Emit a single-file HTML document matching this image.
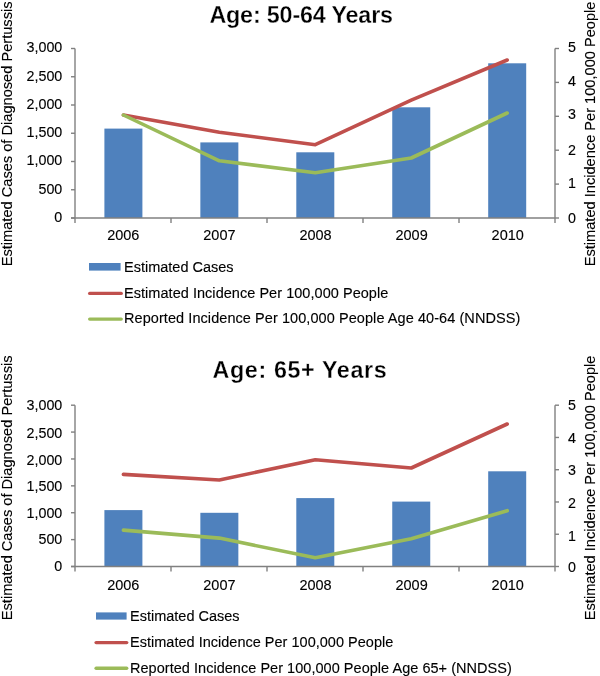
<!DOCTYPE html>
<html><head><meta charset="utf-8"><style>
html,body{margin:0;padding:0;background:#fff;}
svg{display:block;will-change:transform;}
text{font-family:"Liberation Sans", sans-serif;fill:#000;stroke:#000;stroke-width:0.12px;}
</style></head><body>
<svg width="600" height="676" viewBox="0 0 600 676">
<rect width="600" height="676" fill="#fff"/>
<rect x="104.40" y="128.60" width="38" height="89.40" fill="#4F81BD"/>
<rect x="200.35" y="142.40" width="38" height="75.60" fill="#4F81BD"/>
<rect x="296.30" y="152.30" width="38" height="65.70" fill="#4F81BD"/>
<rect x="392.25" y="107.30" width="38" height="110.70" fill="#4F81BD"/>
<rect x="488.20" y="63.30" width="38" height="154.70" fill="#4F81BD"/>
<g stroke="#808080" stroke-width="1.4" fill="none">
<path d="M75.0,48.5 V223"/>
<path d="M71.0,48.50 H75.0"/>
<path d="M71.0,76.75 H75.0"/>
<path d="M71.0,105.00 H75.0"/>
<path d="M71.0,133.25 H75.0"/>
<path d="M71.0,161.50 H75.0"/>
<path d="M71.0,189.75 H75.0"/>
<path d="M71.0,218.00 H75.0"/>
<path d="M555.0,48.5 V223"/>
<path d="M555.0,48.50 H559.0"/>
<path d="M555.0,82.40 H559.0"/>
<path d="M555.0,116.30 H559.0"/>
<path d="M555.0,150.20 H559.0"/>
<path d="M555.0,184.10 H559.0"/>
<path d="M555.0,218.00 H559.0"/>
<path d="M71.0,218 H555.0"/>
<path d="M171.00,218 V223"/>
<path d="M267.00,218 V223"/>
<path d="M363.00,218 V223"/>
<path d="M459.00,218 V223"/>
</g>
<polyline points="123.40,115.00 219.35,132.30 315.30,144.70 411.25,100.20 507.20,60.00" fill="none" stroke="#C0504D" stroke-width="3.6" stroke-linejoin="round" stroke-linecap="round"/>
<polyline points="123.40,115.00 219.35,160.80 315.30,172.70 411.25,158.00 507.20,113.00" fill="none" stroke="#9BBB59" stroke-width="3.6" stroke-linejoin="round" stroke-linecap="round"/>
<text transform="translate(62.3,51.70) scale(1,1.07)" text-anchor="end" font-size="14.3">3,000</text>
<text transform="translate(62.3,80.50) scale(1,1.07)" text-anchor="end" font-size="14.3">2,500</text>
<text transform="translate(62.3,108.85) scale(1,1.07)" text-anchor="end" font-size="14.3">2,000</text>
<text transform="translate(62.3,136.50) scale(1,1.07)" text-anchor="end" font-size="14.3">1,500</text>
<text transform="translate(62.3,165.40) scale(1,1.07)" text-anchor="end" font-size="14.3">1,000</text>
<text transform="translate(62.3,193.50) scale(1,1.07)" text-anchor="end" font-size="14.3">500</text>
<text transform="translate(62.3,222.30) scale(1,1.07)" text-anchor="end" font-size="14.3">0</text>
<text transform="translate(568,51.60) scale(1,1.07)" font-size="14.3">5</text>
<text transform="translate(568,86.00) scale(1,1.07)" font-size="14.3">4</text>
<text transform="translate(568,118.85) scale(1,1.07)" font-size="14.3">3</text>
<text transform="translate(568,154.65) scale(1,1.07)" font-size="14.3">2</text>
<text transform="translate(568,188.30) scale(1,1.07)" font-size="14.3">1</text>
<text transform="translate(568,222.50) scale(1,1.07)" font-size="14.3">0</text>
<text transform="translate(123.30,240.2) scale(1,1.07)" text-anchor="middle" font-size="14.5">2006</text>
<text transform="translate(219.40,240.2) scale(1,1.07)" text-anchor="middle" font-size="14.5">2007</text>
<text transform="translate(315.50,240.2) scale(1,1.07)" text-anchor="middle" font-size="14.5">2008</text>
<text transform="translate(411.60,240.2) scale(1,1.07)" text-anchor="middle" font-size="14.5">2009</text>
<text transform="translate(507.70,240.2) scale(1,1.07)" text-anchor="middle" font-size="14.5">2010</text>
<text x="209.4" y="23" textLength="183.6" lengthAdjust="spacing" font-size="23.3" font-weight="bold" style="stroke:#fff;stroke-width:0.3px">Age: 50-64 Years</text>
<text transform="translate(12.4,266.3) rotate(-90)" font-size="15" textLength="264.8" lengthAdjust="spacingAndGlyphs">Estimated Cases of Diagnosed Pertussis</text>
<text transform="translate(595,266.3) rotate(-90)" font-size="15" textLength="264.8" lengthAdjust="spacingAndGlyphs">Estimated Incidence Per 100,000 People</text>
<rect x="89" y="263" width="31.60" height="7.60" fill="#4F81BD"/>
<text transform="translate(124,272.00) scale(1,1.06)" font-size="14.5">Estimated Cases</text>
<path d="M89.70,293.40 H121.20" stroke="#C0504D" stroke-width="3.4" stroke-linecap="round"/>
<text transform="translate(124,297.70) scale(1,1.06)" font-size="14.5" textLength="264.3" lengthAdjust="spacing">Estimated Incidence Per 100,000 People</text>
<path d="M89.70,319.10 H121.20" stroke="#9BBB59" stroke-width="3.4" stroke-linecap="round"/>
<text transform="translate(124,323.40) scale(1,1.06)" font-size="14.5" textLength="396.3" lengthAdjust="spacing">Reported Incidence Per 100,000 People Age 40-64 (NNDSS)</text>
<rect x="104.40" y="510.10" width="38" height="56.40" fill="#4F81BD"/>
<rect x="200.35" y="512.80" width="38" height="53.70" fill="#4F81BD"/>
<rect x="296.30" y="498.10" width="38" height="68.40" fill="#4F81BD"/>
<rect x="392.25" y="501.60" width="38" height="64.90" fill="#4F81BD"/>
<rect x="488.20" y="471.30" width="38" height="95.20" fill="#4F81BD"/>
<g stroke="#808080" stroke-width="1.4" fill="none">
<path d="M75.0,405.2 V571.5"/>
<path d="M71.0,405.20 H75.0"/>
<path d="M71.0,432.08 H75.0"/>
<path d="M71.0,458.97 H75.0"/>
<path d="M71.0,485.85 H75.0"/>
<path d="M71.0,512.73 H75.0"/>
<path d="M71.0,539.62 H75.0"/>
<path d="M71.0,566.50 H75.0"/>
<path d="M555.0,405.2 V571.5"/>
<path d="M555.0,405.20 H559.0"/>
<path d="M555.0,437.46 H559.0"/>
<path d="M555.0,469.72 H559.0"/>
<path d="M555.0,501.98 H559.0"/>
<path d="M555.0,534.24 H559.0"/>
<path d="M555.0,566.50 H559.0"/>
<path d="M71.0,566.5 H555.0"/>
<path d="M171.00,566.5 V571.5"/>
<path d="M267.00,566.5 V571.5"/>
<path d="M363.00,566.5 V571.5"/>
<path d="M459.00,566.5 V571.5"/>
</g>
<polyline points="123.40,474.40 219.35,480.00 315.30,459.70 411.25,468.00 507.20,424.00" fill="none" stroke="#C0504D" stroke-width="3.6" stroke-linejoin="round" stroke-linecap="round"/>
<polyline points="123.40,530.10 219.35,538.10 315.30,557.80 411.25,538.70 507.20,510.70" fill="none" stroke="#9BBB59" stroke-width="3.6" stroke-linejoin="round" stroke-linecap="round"/>
<text transform="translate(62.3,410.05) scale(1,1.07)" text-anchor="end" font-size="14.3">3,000</text>
<text transform="translate(62.3,437.80) scale(1,1.07)" text-anchor="end" font-size="14.3">2,500</text>
<text transform="translate(62.3,464.90) scale(1,1.07)" text-anchor="end" font-size="14.3">2,000</text>
<text transform="translate(62.3,491.00) scale(1,1.07)" text-anchor="end" font-size="14.3">1,500</text>
<text transform="translate(62.3,517.75) scale(1,1.07)" text-anchor="end" font-size="14.3">1,000</text>
<text transform="translate(62.3,544.35) scale(1,1.07)" text-anchor="end" font-size="14.3">500</text>
<text transform="translate(62.3,570.95) scale(1,1.07)" text-anchor="end" font-size="14.3">0</text>
<text transform="translate(568,410.05) scale(1,1.07)" font-size="14.3">5</text>
<text transform="translate(568,442.85) scale(1,1.07)" font-size="14.3">4</text>
<text transform="translate(568,475.40) scale(1,1.07)" font-size="14.3">3</text>
<text transform="translate(568,507.60) scale(1,1.07)" font-size="14.3">2</text>
<text transform="translate(568,540.50) scale(1,1.07)" font-size="14.3">1</text>
<text transform="translate(568,571.65) scale(1,1.07)" font-size="14.3">0</text>
<text transform="translate(123.30,590) scale(1,1.07)" text-anchor="middle" font-size="14.5">2006</text>
<text transform="translate(219.40,590) scale(1,1.07)" text-anchor="middle" font-size="14.5">2007</text>
<text transform="translate(315.50,590) scale(1,1.07)" text-anchor="middle" font-size="14.5">2008</text>
<text transform="translate(411.60,590) scale(1,1.07)" text-anchor="middle" font-size="14.5">2009</text>
<text transform="translate(507.70,590) scale(1,1.07)" text-anchor="middle" font-size="14.5">2010</text>
<text x="212.6" y="378.3" font-size="23.3" font-weight="bold" textLength="174" lengthAdjust="spacing" style="stroke:#fff;stroke-width:0.3px">Age: 65+ Years</text>
<text transform="translate(12.4,620.2) rotate(-90)" font-size="15" textLength="264.7" lengthAdjust="spacingAndGlyphs">Estimated Cases of Diagnosed Pertussis</text>
<text transform="translate(595,620.2) rotate(-90)" font-size="15" textLength="264.7" lengthAdjust="spacingAndGlyphs">Estimated Incidence Per 100,000 People</text>
<rect x="96" y="612.4" width="30.60" height="7.20" fill="#4F81BD"/>
<text transform="translate(130,621.20) scale(1,1.06)" font-size="14.5">Estimated Cases</text>
<path d="M96.10,642.60 H126.70" stroke="#C0504D" stroke-width="3.4" stroke-linecap="round"/>
<text transform="translate(130,646.90) scale(1,1.06)" font-size="14.5" textLength="263.3" lengthAdjust="spacing">Estimated Incidence Per 100,000 People</text>
<path d="M96.10,668.30 H126.70" stroke="#9BBB59" stroke-width="3.4" stroke-linecap="round"/>
<text transform="translate(130,672.60) scale(1,1.06)" font-size="14.5" textLength="381.8" lengthAdjust="spacing">Reported Incidence Per 100,000 People Age 65+ (NNDSS)</text>
</svg>
</body></html>
